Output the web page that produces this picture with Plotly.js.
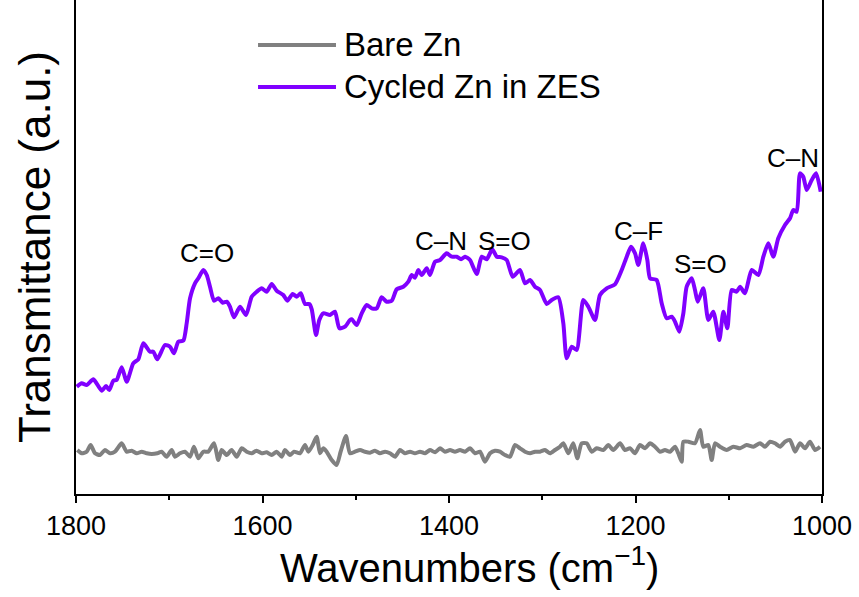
<!DOCTYPE html>
<html>
<head>
<meta charset="utf-8">
<script src="https://cdn.plot.ly/plotly-3.0.1.min.js"></script>
<style>html,body{margin:0;padding:0;background:#fff;}#chart{width:859px;height:597px;}</style>
</head>
<body>
<div id="chart"></div>
<script>
// Series names
var seriesNames = ["Bare Zn", "Cycled Zn in ZES"];

// Cycled Zn in ZES (purple) - wavenumber (cm-1) and transmittance (a.u.)
var cycledWn = [1799.2,1793.9,1788.5,1781.4,1772.4,1767.8,1764.3,1760,1756.4,1751,1745.6,1738.6,1733.2,1727.8,1720.6,1717.1,1712.8,1704.6,1699.2,1694.9,1690.3,1684.9,1681.3,1677.7,1672.4,1668.8,1663.5,1659.8,1656.3,1652,1647.4,1642.7,1638.4,1634.9,1630.6,1624.1,1617.7,1611.6,1606.2,1600.9,1595.5,1590.1,1584.8,1577.7,1573.4,1567.6,1563.3,1559,1554.4,1549.8,1547.2,1542.6,1539.1,1534.8,1527.6,1522.3,1517.6,1511.5,1506.2,1504.3,1499,1493.6,1488.3,1482.9,1477.5,1472.2,1466.8,1461.4,1456.1,1449,1443.6,1440,1436.5,1432.9,1429.3,1423.9,1420.4,1415,1409.6,1402.5,1397.1,1391.7,1387.1,1382.8,1377.5,1370.3,1364.9,1359.6,1353.6,1348.8,1343.5,1338.1,1331.7,1323.9,1318.5,1313.1,1307.8,1302.4,1295.2,1289.9,1282.8,1277.4,1273.8,1268.4,1263.1,1256,1250.6,1243.4,1238.1,1230.9,1222,1214.8,1209.4,1204.8,1200.5,1197,1191.6,1187.3,1184.4,1177.3,1171.9,1166.5,1161.2,1157.6,1153,1148.7,1145.1,1139.7,1136.2,1133.3,1127.3,1121.9,1116.6,1110.1,1105.8,1101.5,1096.8,1091.5,1087.9,1082.6,1075.4,1068.3,1062.9,1057.6,1052.2,1046.9,1039.7,1034.3,1030.8,1027.1,1023.6,1020.1,1016.4,1011,1006.4,1001.4];
var cycledT = [103.3,106.7,105,110.7,99.3,104,100,109.3,110,122.7,108.3,126.7,130.7,146.7,138.3,138.3,130.7,145,143.3,136.7,148.3,149.3,166.7,191.7,206.7,211.7,220,215,203.3,189.3,191.7,187.3,188.3,183.3,172.7,183.3,175,193.3,198.3,201.7,198.3,206,199.3,195,189.3,196,193.3,196.7,186,186,180.7,155,170,176.7,175,178.3,161.7,163.3,170,170.7,165,176.7,185,181.7,181.7,192.7,188.3,189.3,200.7,203.3,208.3,215,212.3,220,215,221.7,215,228.3,230,236.7,233.3,233.3,230.7,233.3,230,216,233.3,230.7,240.7,233.3,232.7,230,213.3,220,206.7,210,203.3,200,186,190,192.7,166.7,131.7,143.3,140,190,183.3,170,195,201.7,205.7,220,233.3,243.3,236.7,225,246.7,230,211.7,210,186.7,171.7,173.3,168.3,158.3,176.7,203.3,211.7,200,188.3,201.7,170,178.3,150,178.3,161.7,200,198.3,203.3,196.7,220,215,233.3,246.7,233.3,251.7,265,271.7,280,278.3,316.7,313.3,300,310,316.7,298.3];

// Bare Zn (grey)
var bareWn = [1798.6,1793.9,1788.6,1784.3,1779.6,1774.3,1768.9,1763.5,1758.2,1751,1745.7,1740.3,1734.9,1729.6,1724.2,1718.9,1712.8,1708.1,1702.8,1697.4,1693.8,1688.5,1683.1,1677.7,1673.5,1668.8,1663.5,1658.1,1652,1647.4,1643.8,1638.4,1633.1,1627.7,1622.3,1617,1611.6,1606.3,1600.9,1595.5,1590.2,1584.8,1579.4,1575.9,1570.5,1566.2,1559.8,1554.4,1550.8,1546.2,1541.9,1538.3,1534.8,1531.2,1525.8,1520.5,1516.2,1510.5,1506.2,1500.8,1495.4,1490.1,1484.7,1479.4,1474,1468.6,1463.3,1457.9,1452.5,1447.2,1441.8,1436.5,1431.1,1425.7,1420.4,1415,1409.6,1404.3,1398.9,1393.6,1388.2,1382.8,1377.5,1372.1,1366.8,1361.4,1356,1350.7,1345.3,1339.9,1334.6,1329.2,1323.9,1318.5,1313.1,1307.8,1302.4,1297.1,1291.7,1286.3,1281,1277.4,1272,1266.7,1262.4,1257.7,1252.4,1247,1241.6,1234.5,1229.1,1223.8,1216.6,1211.3,1205.9,1200.5,1195.2,1189.8,1184.4,1179.1,1173.7,1168.4,1163,1157.6,1154.1,1150.5,1148.7,1143.3,1136.2,1130.8,1127.3,1121.9,1118.3,1114.7,1109.4,1102.2,1095.1,1087.9,1080.8,1073.6,1066.5,1061.1,1055.8,1050.4,1045,1039.7,1034.3,1028.9,1023.6,1018.2,1012.9,1007.5,1002.1];
var bareT = [40,36.7,38.3,45,36.7,35,40,36.7,38.3,46.7,38.3,39.3,36.7,38.3,36.7,36,36.7,38.3,33.3,40,33.3,36.7,38.3,33.3,43.3,31.7,38.3,38.3,46.7,30,40,35,40,33.3,41.7,38.3,36.7,39.3,36.7,37.7,35,38.3,33.3,40,35,38.3,36.7,45,38.3,45,53.3,36.7,41.7,38.3,30,25,38.3,54,36.7,38.3,40,38.3,37.3,39.3,36.7,38.3,36.7,33.3,40,36.7,38.3,36.7,38.3,36.7,40,37.7,41.7,38.3,40,38.3,40,38.3,41.7,36.7,38.3,28.3,36.7,39.3,38.3,35,33.3,45,41.7,38.3,36.7,38.3,38.3,40,36.7,40,43.3,46.7,36.7,46.7,31.7,46.7,46.7,38.3,41.7,40,45,40,46.7,40,41.7,36.7,45,41.7,46.7,43.3,38.3,40,38.3,43.3,36.7,28.3,48.3,48.3,46.7,60,43.3,45,30,46.7,43.3,40,43.3,41.7,45,43.3,46.7,43.3,48.3,46.7,43.3,48.3,50,38.3,46.7,41.7,48.3,40,43.3];

// Peak labels
var peakLabels = ["C=O", "C\u2013N", "S=O", "C\u2013F", "S=O", "C\u2013N"];
var peakWn = [1659.5, 1408.9, 1341, 1197, 1130.1, 1031.6];
var peakT = [237, 249.3, 249.3, 259.3, 226.3, 332];

// Axis ticks and titles
var xTickVals = [1800, 1600, 1400, 1200, 1000];
var xTickText = ["1800", "1600", "1400", "1200", "1000"];
var xTitle = "Wavenumbers (cm<sup>\u22121</sup>)";
var yTitle = "Transmittance (a.u.)";

var colors = ["#808080", "#8000FF"];
var FONT = "Arial, 'Liberation Sans', sans-serif";

var traces = [
  {x: bareWn, y: bareT, name: seriesNames[0], type: "scatter", mode: "lines",
   line: {color: colors[0], width: 4, shape: "spline", smoothing: 0.6}, showlegend: false},
  {x: cycledWn, y: cycledT, name: seriesNames[1], type: "scatter", mode: "lines",
   line: {color: colors[1], width: 4, shape: "spline", smoothing: 0.6}, showlegend: false}
];

var annotations = peakLabels.map(function(t, i){
  return {x: peakWn[i], y: peakT[i], xref: "x", yref: "y", text: t, showarrow: false,
          font: {family: FONT, size: 26, color: "#000"}, xanchor: "center", yanchor: "middle"};
});

// Custom legend (long line samples like the reference)
var legendY = [0.909, 0.824];
var shapes = [];
seriesNames.forEach(function(n, i){
  shapes.push({type: "line", xref: "paper", yref: "paper", x0: 0.244, x1: 0.3485,
               y0: legendY[i], y1: legendY[i], line: {color: colors[i], width: 4}});
  annotations.push({xref: "paper", yref: "paper", x: 0.3565, y: legendY[i], text: n,
                    showarrow: false, xanchor: "left", yanchor: "middle",
                    font: {family: FONT, size: 33, color: "#000"}});
});

// X axis title (placed as annotation so it can sit slightly right of centre as in the reference)
annotations.push({xref: "paper", yref: "paper", x: 0.527, y: -0.09, text: xTitle,
                  showarrow: false, xanchor: "center", yanchor: "top",
                  font: {family: FONT, size: 40, color: "#000"}});

var layout = {
  width: 859, height: 597,
  margin: {l: 76, r: 37, t: 0, b: 103, pad: 0},
  paper_bgcolor: "#fff", plot_bgcolor: "#fff",
  showlegend: false,
  font: {family: FONT, color: "#000"},
  xaxis: {
    range: [1800, 1000], autorange: false,
    tickvals: xTickVals, ticktext: xTickText,
    ticks: "outside", ticklen: 7, tickwidth: 2, tickcolor: "#000",
    minor: {dtick: 100, ticks: "outside", ticklen: 4, tickwidth: 2, tickcolor: "#000"},
    showline: true, linewidth: 2, linecolor: "#000", mirror: false,
    showgrid: false, zeroline: false,
    tickfont: {family: FONT, size: 27, color: "#000"}
  },
  yaxis: {
    range: [-4, 490], autorange: false,
    showticklabels: false, ticks: "",
    showline: true, linewidth: 2, linecolor: "#000", mirror: true,
    showgrid: false, zeroline: false,
    title: {text: yTitle, font: {family: FONT, size: 44, color: "#000"}, standoff: 10}
  },
  shapes: shapes,
  annotations: annotations
};

Plotly.newPlot("chart", traces, layout, {displayModeBar: false, staticPlot: true});
</script>
</body>
</html>
